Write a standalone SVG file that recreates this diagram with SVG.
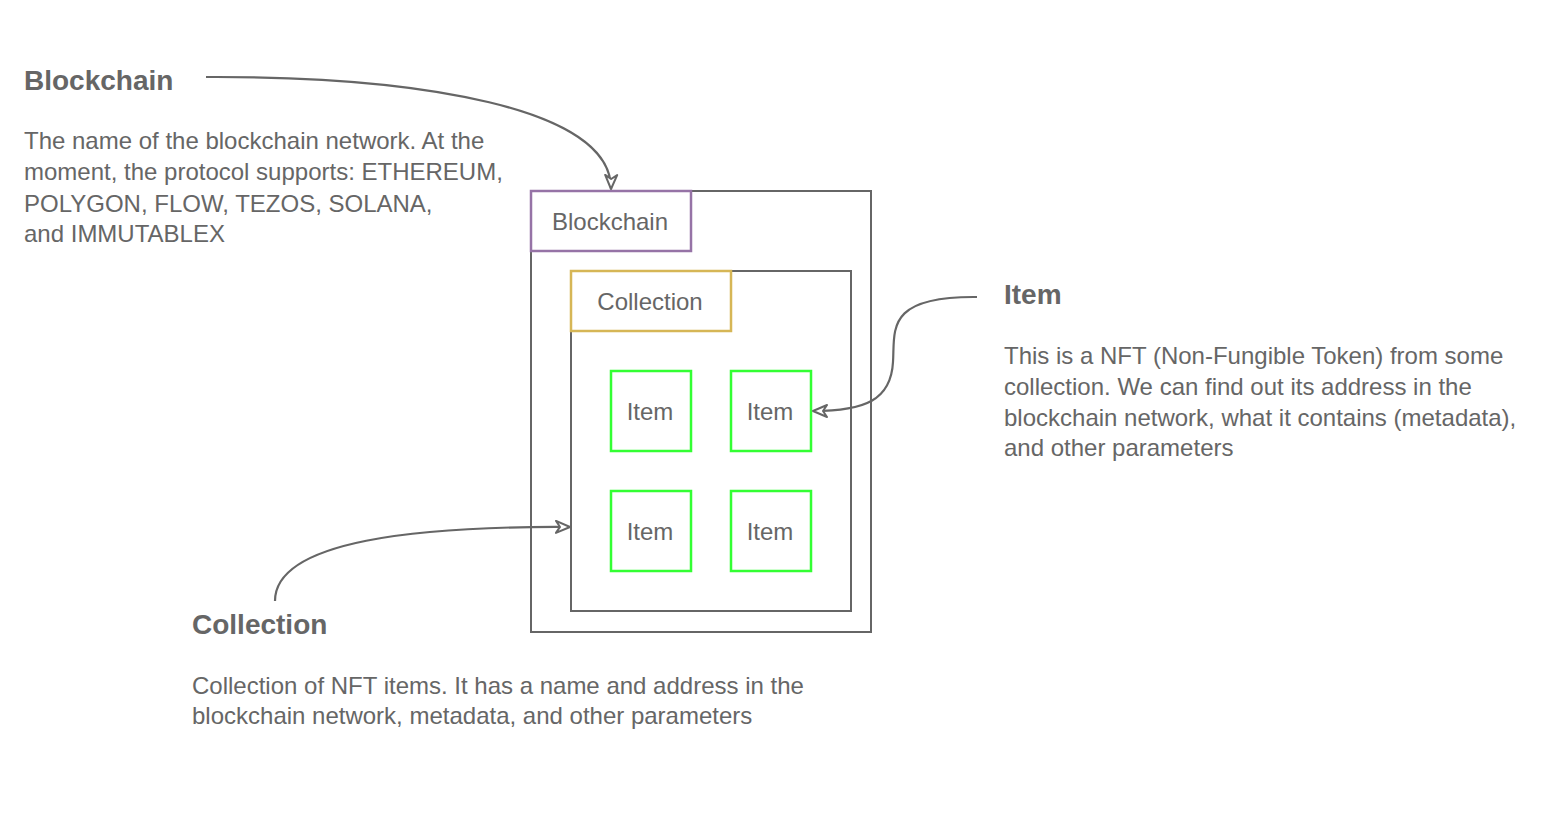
<svg xmlns="http://www.w3.org/2000/svg" width="1548" height="838" viewBox="0 0 1548 838">
<style>
text{font-family:"Liberation Sans",Arial,sans-serif;fill:#666666;}
.t{font-size:28px;font-weight:bold;}
.b{font-size:24px;}
.n{font-size:24px;text-anchor:middle;}
.box{fill:#ffffff;stroke:#666666;stroke-width:2;}
.chain{fill:#ffffff;stroke:#9673a6;stroke-width:2.5;}
.coll{fill:#ffffff;stroke:#d6b656;stroke-width:2.5;}
.item{fill:#ffffff;stroke:#33ff33;stroke-width:2.5;}
.edge{fill:none;stroke:#666666;stroke-width:2.2;marker-end:url(#arr);}
</style>
<defs>
<marker id="arr" viewBox="0 0 16 16" refX="15" refY="8" markerWidth="16" markerHeight="16" markerUnits="userSpaceOnUse" orient="auto">
<path d="M1,2 L15,8 L1,14 L5,8 Z" fill="#ffffff" stroke="#666666" stroke-width="2" stroke-linejoin="round"/>
</marker>
</defs>
<rect width="1548" height="838" fill="#ffffff"/>

<g id="blockchain-container">
<rect class="box" x="531" y="191" width="340" height="441"/>
</g>
<g id="blockchain-label">
<rect class="chain" x="531" y="191" width="160" height="60"/>
<text class="n" x="610" y="230">Blockchain</text>
</g>
<g id="collection-container">
<rect class="box" x="571" y="271" width="280" height="340"/>
</g>
<g id="collection-label">
<rect class="coll" x="571" y="271" width="160" height="60"/>
<text class="n" x="650" y="310">Collection</text>
</g>
<g id="item-1">
<rect class="item" x="611" y="371" width="80" height="80"/>
<text class="n" x="650" y="420">Item</text>
</g>
<g id="item-2">
<rect class="item" x="731" y="371" width="80" height="80"/>
<text class="n" x="770" y="420">Item</text>
</g>
<g id="item-3">
<rect class="item" x="611" y="491" width="80" height="80"/>
<text class="n" x="650" y="540">Item</text>
</g>
<g id="item-4">
<rect class="item" x="731" y="491" width="80" height="80"/>
<text class="n" x="770" y="540">Item</text>
</g>

<g id="connectors">
<path class="edge" d="M206,77 C420,76 612,108 611,189"/>
<path class="edge" d="M977,297 C885,296 895,330 893,362 C891,400 865,411 813,411"/>
<path class="edge" d="M275,601 C275,540 420,526 570,527"/>
</g>

<g id="note-blockchain">
<text class="t" x="24" y="90">Blockchain</text>
<text class="b" x="24" y="149">The name of the blockchain network. At the</text>
<text class="b" x="24" y="180">moment, the protocol supports: ETHEREUM,</text>
<text class="b" x="24" y="212">POLYGON, FLOW, TEZOS, SOLANA,</text>
<text class="b" x="24" y="242">and IMMUTABLEX</text>
</g>
<g id="note-item">
<text class="t" x="1004" y="304">Item</text>
<text class="b" x="1004" y="364">This is a NFT (Non-Fungible Token) from some</text>
<text class="b" x="1004" y="395">collection. We can find out its address in the</text>
<text class="b" x="1004" y="426">blockchain network, what it contains (metadata),</text>
<text class="b" x="1004" y="456">and other parameters</text>
</g>
<g id="note-collection">
<text class="t" x="192" y="634">Collection</text>
<text class="b" x="192" y="694">Collection of NFT items. It has a name and address in the</text>
<text class="b" x="192" y="724">blockchain network, metadata, and other parameters</text>
</g>
</svg>
